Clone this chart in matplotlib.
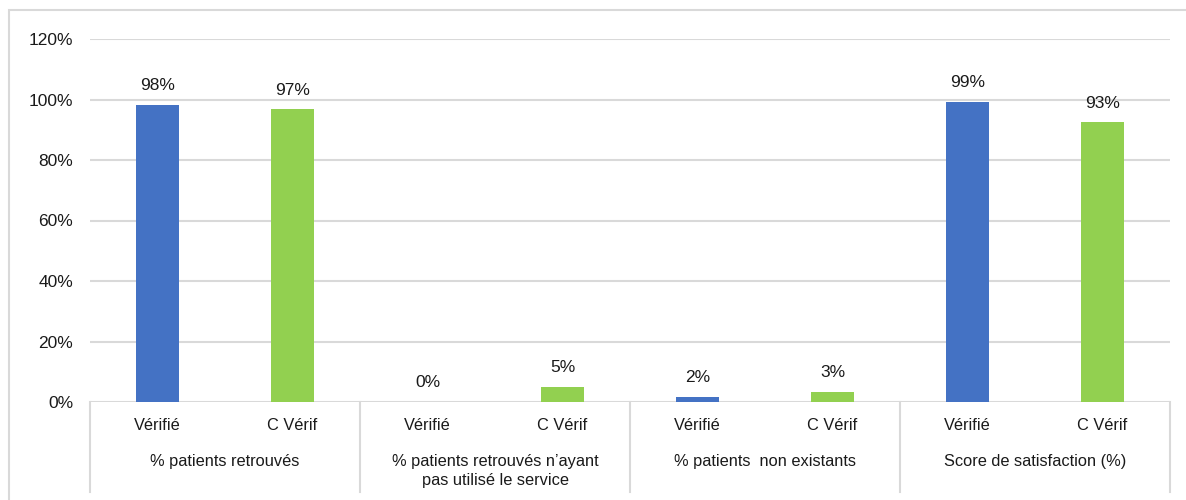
import matplotlib.pyplot as plt
import matplotlib.transforms as mtransforms
from matplotlib.patches import Rectangle

plt.rcParams['font.family'] = ['Liberation Sans', 'DejaVu Sans']

groups = ['% patients retrouvés',
          '% patients retrouvés n’ayant\npas utilisé le service',
          '% patients  non existants',
          'Score de satisfaction (%)']
subs = ['Vérifié', 'C Vérif']
values = [0.982, 0.967, 0.0, 0.049, 0.016, 0.033, 0.993, 0.924]
labels = ['98%', '97%', '0%', '5%', '2%', '3%', '99%', '93%']
colors = ['#4472C4', '#92D050'] * 4
yticks = [0, 0.2, 0.4, 0.6, 0.8, 1.0, 1.2]

fig = plt.figure(figsize=(11.86, 5), dpi=100)
ax = fig.add_axes([90 / 1186, 98 / 500, 1080 / 1186, 363 / 500])

# light frame around the chart
fig.patches.append(Rectangle((9 / 1186, -0.1), 1.2, 0.98 + 0.1, transform=fig.transFigure,
                             fill=False, edgecolor='#D9D9D9', linewidth=1.5))

x = list(range(len(values)))
ax.bar(x, values, width=0.32, color=colors, zorder=3)
for xi, v, lab in zip(x, values, labels):
    ax.annotate(lab, (xi, v), xytext=(0, 8.5), textcoords='offset points',
                ha='center', va='bottom', fontsize=12.5, color='#1a1a1a')

ax.set_xlim(-0.5, 7.5)
ax.set_ylim(0, 1.2)
ax.set_yticks(yticks)
ax.set_yticklabels([f'{int(round(t * 100))}%' for t in yticks], fontsize=12.5, color='#1a1a1a')
ax.tick_params(axis='y', length=0, pad=12)
ax.set_xticks([])
ax.grid(axis='y', color='#D9D9D9', linewidth=1.5, zorder=0)
for s in ax.spines.values():
    s.set_visible(False)

trans = mtransforms.blended_transform_factory(ax.transData, ax.transAxes)
for sep in [-0.5, 1.5, 3.5, 5.5, 7.5]:
    ax.plot([sep, sep], [0, -0.248], transform=trans, color='#D9D9D9',
            linewidth=1.5, clip_on=False)
for xi in x:
    ax.text(xi, -0.064, subs[xi % 2], transform=trans, ha='center', va='center',
            fontsize=11.8, color='#1a1a1a')
for gi, g in enumerate(groups):
    ax.text(2 * gi + 0.5, -0.142, g, transform=trans, ha='center', va='top',
            fontsize=11.8, color='#1a1a1a', linespacing=1.35)

fig.savefig('out.png', dpi=100)
